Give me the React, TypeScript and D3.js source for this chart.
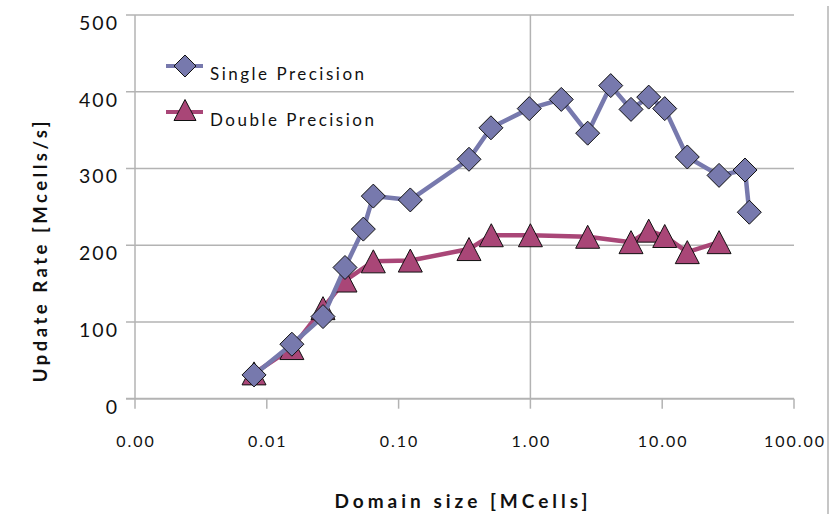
import React from "react";
import * as d3 from "d3";

// Domain sizes (MCells) and update rates (Mcells/s)
const singleX = [0.008, 0.0155, 0.0267, 0.0392, 0.054, 0.0643, 0.1227, 0.342, 0.502, 0.98, 1.715, 2.72, 4.07, 5.8, 7.9, 10.45, 15.5, 27, 42.5, 45.8];
const singleY = [31, 71, 107, 171, 221, 264, 259, 312, 353, 378, 390, 346, 408, 377, 393, 378, 315, 291, 298, 243];
const doubleX = [0.008, 0.0155, 0.0267, 0.0392, 0.0643, 0.1227, 0.342, 0.505, 1.0, 2.72, 5.8, 7.9, 10.45, 15.5, 27];
const doubleY = [33, 66, 118, 154, 179, 180, 195, 213, 213, 211, 204, 219, 212, 191, 204];

const xTicks = [0.001, 0.01, 0.1, 1, 10, 100];
const yTicks = [0, 100, 200, 300, 400, 500];

const seriesNames = ["Single Precision", "Double Precision"];
const SINGLE = "#7779ad";
const DOUBLE = "#a94677";
const GRID = "#b3b3b3";
const FONT = "Lato, 'Open Sans', sans-serif";

const W = 836;
const H = 514;

export default function App() {
  const x = d3.scaleLog().domain([0.001, 100]).range([135, 794]);
  const y = d3.scaleLinear().domain([0, 500]).range([398.7, 15]);
  const fmt = d3.format(".2f");

  const line = d3
    .line<[number, number]>()
    .x((d) => x(d[0]))
    .y((d) => y(d[1]));

  const singlePts: [number, number][] = singleX.map((v, i) => [v, singleY[i]]);
  const doublePts: [number, number][] = doubleX.map((v, i) => [v, doubleY[i]]);

  const diamond = (cx: number, cy: number, r = 12) =>
    `M${cx},${cy - r}L${cx + r},${cy}L${cx},${cy + r}L${cx - r},${cy}Z`;
  const triangle = (cx: number, cy: number, w = 24, h = 23) =>
    `M${cx},${cy - h / 2}L${cx + w / 2},${cy + h / 2}L${cx - w / 2},${cy + h / 2}Z`;

  const [x0, x1] = x.range();

  return (
    <svg
      width={W}
      height={H}
      style={{ position: "absolute", left: 0, top: 0, background: "#fff" }}
      fontFamily={FONT}
    >
      {/* horizontal gridlines with left tick stubs */}
      {yTicks.map((t) => (
        <line key={"g" + t} x1={126} x2={x1} y1={y(t)} y2={y(t)} stroke={GRID} strokeWidth={t === 0 ? 2 : 1.5} />
      ))}
      {/* vertical gridline at 1.00 */}
      <line x1={x(1)} x2={x(1)} y1={y(500)} y2={y(0)} stroke={GRID} strokeWidth={1.5} />
      {/* y axis */}
      <line x1={x0} x2={x0} y1={y(500)} y2={y(0)} stroke={GRID} strokeWidth={1.5} />
      {/* x ticks */}
      {xTicks.map((t) => (
        <line key={"xt" + t} x1={x(t)} x2={x(t)} y1={y(0)} y2={y(0) + 10} stroke={GRID} strokeWidth={1.5} />
      ))}
      {/* right border */}
      <line x1={828} x2={828} y1={6} y2={H} stroke={GRID} strokeWidth={1.5} />

      {/* y tick labels */}
      {yTicks.map((t) => (
        <text key={"yl" + t} x={119} y={y(t) + 15} textAnchor="end" fontSize={19.5} letterSpacing={2} fill="#111">
          {t}
        </text>
      ))}
      {/* x tick labels */}
      {xTicks.map((t) => (
        <text key={"xl" + t} x={x(t) + 1} y={447} textAnchor="middle" fontSize={16} letterSpacing={2} fill="#111">
          {fmt(t)}
        </text>
      ))}

      {/* axis titles */}
      <text x={463} y={508} textAnchor="middle" fontSize={19} fontWeight="bold" letterSpacing={4} fill="#111">
        Domain size [MCells]
      </text>
      <text
        transform="translate(47,250) rotate(-90)"
        textAnchor="middle"
        fontSize={18.5}
        fontWeight="bold"
        letterSpacing={3.5}
        fill="#111"
      >
        Update Rate [Mcells/s]
      </text>

      {/* double precision series */}
      <path d={line(doublePts) ?? ""} fill="none" stroke={DOUBLE} strokeWidth={4.5} strokeLinejoin="round" />
      {doublePts.map((d, i) => (
        <path key={"dm" + i} d={triangle(x(d[0]), y(d[1]))} fill={DOUBLE} stroke="#111" strokeWidth={1} />
      ))}

      {/* single precision series */}
      <path d={line(singlePts) ?? ""} fill="none" stroke={SINGLE} strokeWidth={4.5} strokeLinejoin="round" />
      {singlePts.map((d, i) => (
        <path key={"sm" + i} d={diamond(x(d[0]), y(d[1]))} fill={SINGLE} stroke="#111" strokeWidth={1} />
      ))}

      {/* legend */}
      <g>
        <line x1={166} x2={203} y1={66} y2={66} stroke={SINGLE} strokeWidth={4} />
        <path d={diamond(185, 66, 11)} fill={SINGLE} stroke="#111" strokeWidth={1} />
        <text x={210} y={80} fontSize={17} letterSpacing={2.5} fill="#111">
          {seriesNames[0]}
        </text>
        <line x1={166} x2={203} y1={112} y2={112} stroke={DOUBLE} strokeWidth={4} />
        <path d={triangle(185, 110, 22, 21)} fill={DOUBLE} stroke="#111" strokeWidth={1} />
        <text x={210} y={126} fontSize={17} letterSpacing={2.5} fill="#111">
          {seriesNames[1]}
        </text>
      </g>
    </svg>
  );
}
